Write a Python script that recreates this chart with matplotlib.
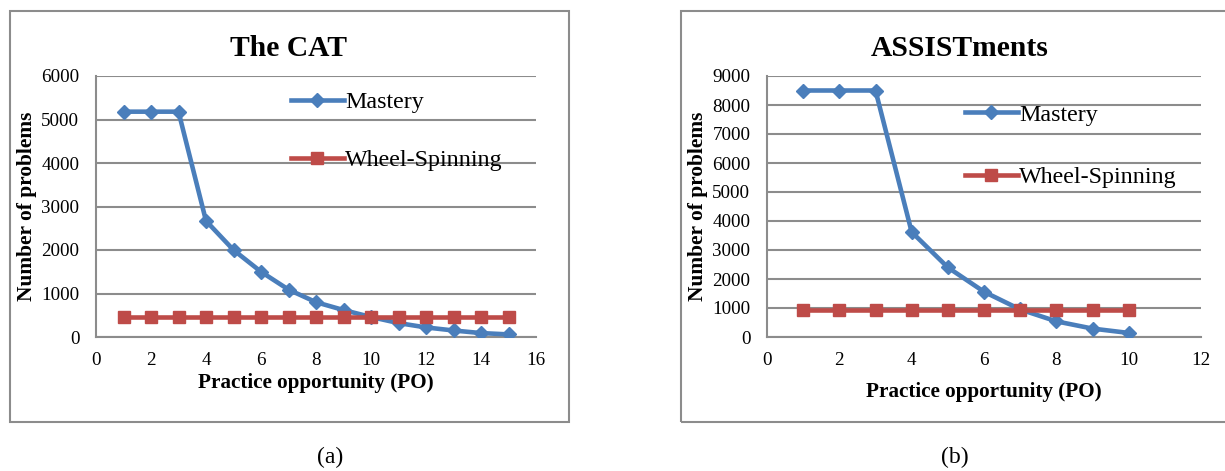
import matplotlib.pyplot as plt
from matplotlib.patches import Rectangle

plt.rcParams.update({'font.family': 'Liberation Serif', 'font.size': 13})

# data
po_cat = list(range(1, 16))
mastery_cat = [5180, 5180, 5180, 2670, 2000, 1500, 1090, 800, 620, 460, 320, 220, 150, 90, 60]
wheel_cat = [450] * 15

po_assist = list(range(1, 11))
mastery_assist = [8500, 8500, 8500, 3620, 2400, 1560, 950, 540, 290, 140]
wheel_assist = [940] * 10

BLUE = '#4A7EBB'
RED = '#BE4B48'
GRID = '#8C8C8C'

W, H = 1225, 471
fig = plt.figure(figsize=(W / 100, H / 100), dpi=100)


def px_axes(x0, x1, y0, y1):
    return fig.add_axes([x0 / W, 1 - y1 / H, (x1 - x0) / W, (y1 - y0) / H])


def draw(ax, x, m, w, xmax, ymax, ystep, leg_xy, ylab_x, xlab_y, spacing):
    ax.plot(x, m, color=BLUE, lw=3.3, marker='D', ms=7.5, label='Mastery', zorder=3)
    ax.plot(x, w, color=RED, lw=3.3, marker='s', ms=8.5, label='Wheel-Spinning', zorder=3)
    ax.set_xlim(0, xmax)
    ax.set_ylim(0, ymax)
    ax.set_xticks(range(0, xmax + 1, 2))
    ax.set_yticks(range(0, ymax + 1, ystep))
    ax.yaxis.grid(True, color=GRID, lw=1.5)
    ax.set_axisbelow(True)
    for s in ['top', 'right']:
        ax.spines[s].set_visible(False)
    for s in ['left', 'bottom']:
        ax.spines[s].set_color(GRID)
        ax.spines[s].set_linewidth(1.5)
    ax.tick_params(length=0, labelsize=13.7)
    ax.tick_params(axis='x', pad=11)
    ax.tick_params(axis='y', pad=12)
    ax.set_xlabel('Practice opportunity (PO)', fontsize=15.2, fontweight='bold', va='center')
    ax.set_ylabel('Number of problems', fontsize=15.4, fontweight='bold', va='center')
    ax.xaxis.set_label_coords(0.5, xlab_y)
    ax.yaxis.set_label_coords(ylab_x, 0.5)
    ax.legend(loc='upper left', bbox_to_anchor=(leg_xy[0] / W, 1 - leg_xy[1] / H),
              bbox_transform=fig.transFigure, frameon=False, fontsize=17.3,
              handlelength=2.2, handletextpad=0.05, labelspacing=spacing,
              borderpad=0, borderaxespad=0)


ax1 = px_axes(96, 536, 76, 337)
draw(ax1, po_cat, mastery_cat, wheel_cat, 16, 6000, 1000, (291, 91.5), -0.157, -0.176, 1.5)

ax2 = px_axes(767, 1201, 76, 337)
draw(ax2, po_assist, mastery_assist, wheel_assist, 12, 9000, 1000, (965, 104), -0.159, -0.21, 1.68)

# chart titles, centred on each chart box
fig.text(289 / W, 1 - 49 / H, 'The CAT', ha='center', va='center', fontsize=21.3, fontweight='bold')
fig.text(960 / W, 1 - 49 / H, 'ASSISTments', ha='center', va='center', fontsize=21.3, fontweight='bold')

# chart borders
fig.patches.append(Rectangle((9.5 / W, 1 - 422 / H), (569 - 9.5) / W, (422 - 11) / H,
                             transform=fig.transFigure, fill=False, edgecolor=GRID, lw=1.5))
fig.patches.append(Rectangle((681 / W, 1 - 422 / H), (1240 - 681) / W, (422 - 11) / H,
                             transform=fig.transFigure, fill=False, edgecolor=GRID, lw=1.5))

fig.text(330 / W, 1 - 457 / H, '(a)', ha='center', va='center', fontsize=17)
fig.text(955 / W, 1 - 457 / H, '(b)', ha='center', va='center', fontsize=17)

plt.savefig('out.png', dpi=100)
